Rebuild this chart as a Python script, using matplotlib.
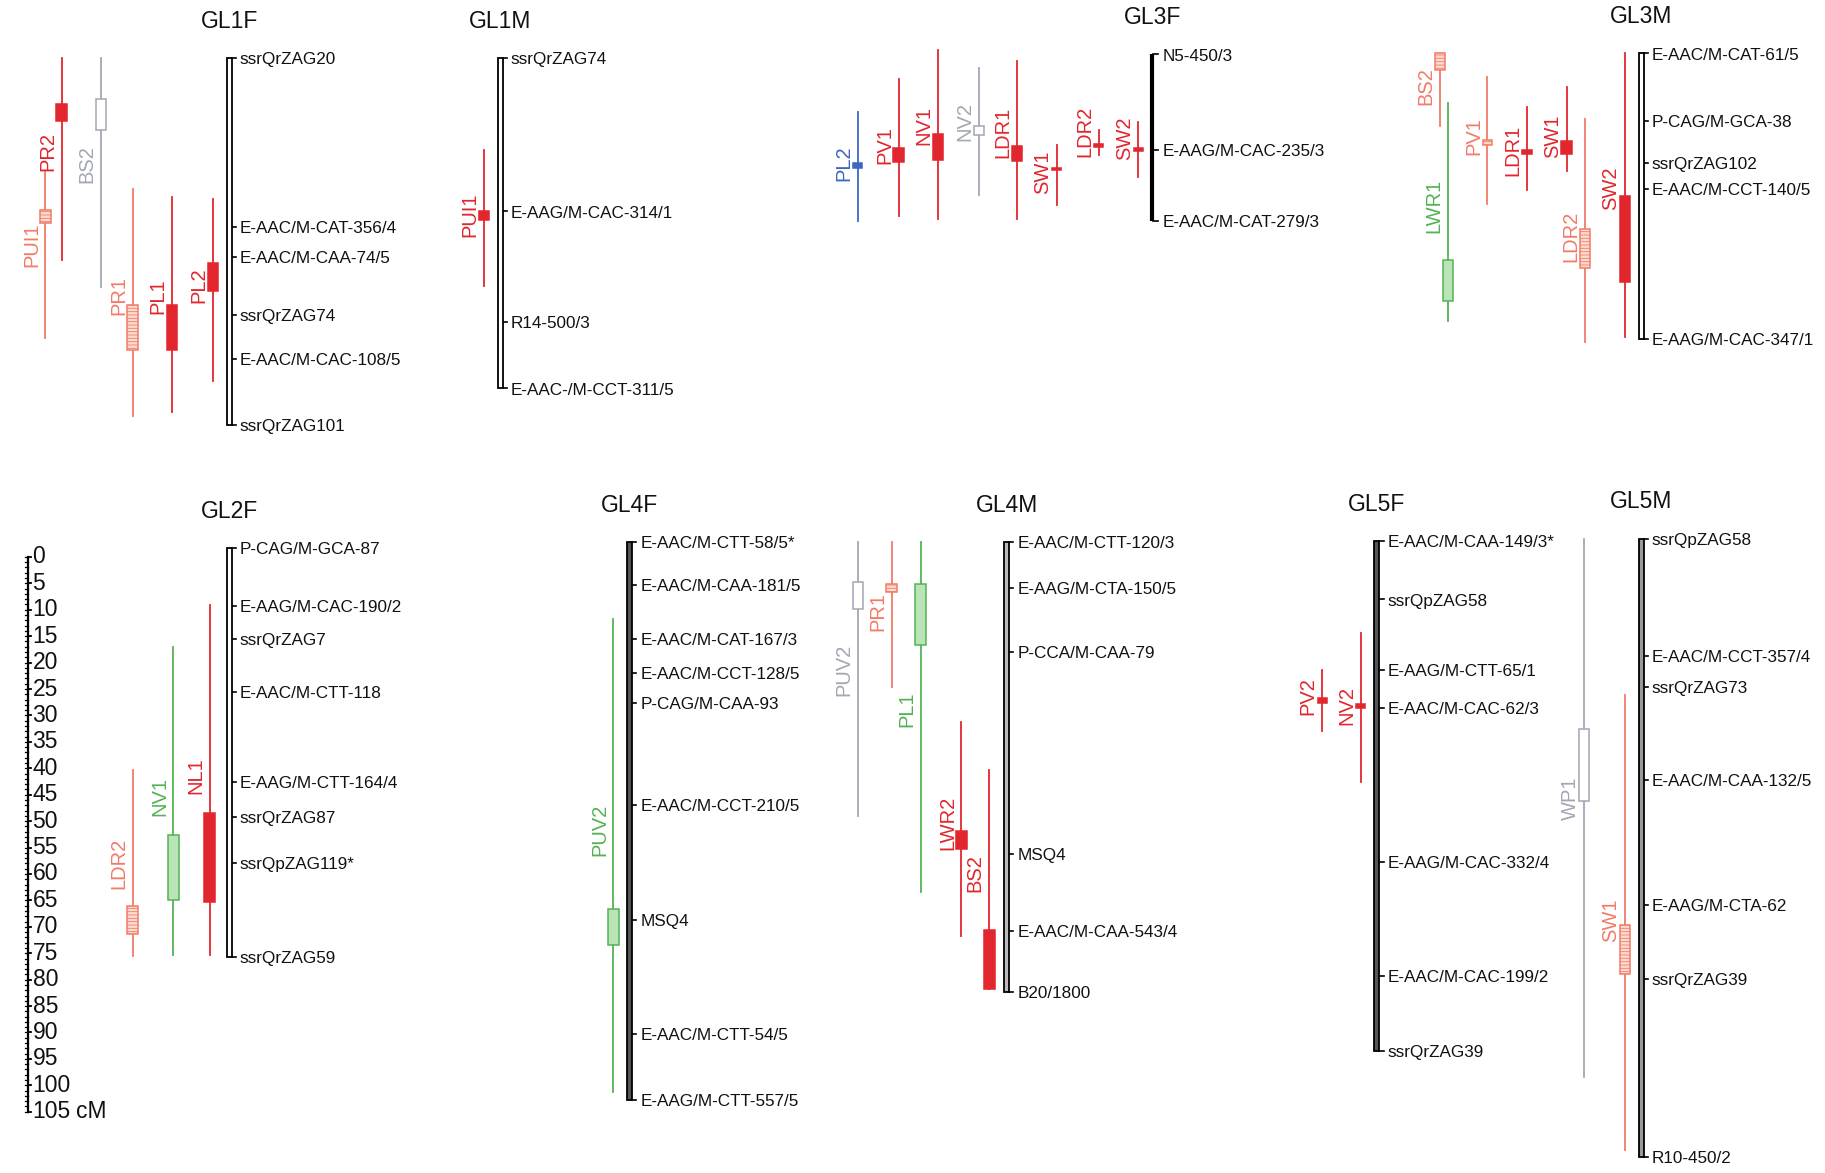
import numpy as np
import matplotlib.pyplot as plt
from matplotlib.patches import Rectangle

plt.rcParams['font.family'] = ['Liberation Sans', 'DejaVu Sans']
plt.rcParams['hatch.linewidth'] = 0.6

# ---- linkage groups: marker names and positions (cM from first marker)
gl1f_markers = ['ssrQrZAG20', 'E-AAC/M-CAT-356/4', 'E-AAC/M-CAA-74/5', 'ssrQrZAG74',
                'E-AAC/M-CAC-108/5', 'ssrQrZAG101']
gl1f_cm = [0, 32.0, 37.6, 48.6, 56.9, 69.4]

gl1m_markers = ['ssrQrZAG74', 'E-AAG/M-CAC-314/1', 'R14-500/3', 'E-AAC-/M-CCT-311/5']
gl1m_cm = [0, 29.0, 50.0, 62.5]

gl3f_markers = ['N5-450/3', 'E-AAG/M-CAC-235/3', 'E-AAC/M-CAT-279/3']
gl3f_cm = [0, 18.1, 31.5]

gl3m_markers = ['E-AAC/M-CAT-61/5', 'P-CAG/M-GCA-38', 'ssrQrZAG102', 'E-AAC/M-CCT-140/5',
                'E-AAG/M-CAC-347/1']
gl3m_cm = [0, 12.7, 20.8, 25.7, 54.0]

gl2f_markers = ['P-CAG/M-GCA-87', 'E-AAG/M-CAC-190/2', 'ssrQrZAG7', 'E-AAC/M-CTT-118',
                'E-AAG/M-CTT-164/4', 'ssrQrZAG87', 'ssrQpZAG119*', 'ssrQrZAG59']
gl2f_cm = [0, 11.0, 17.2, 27.2, 44.3, 50.8, 59.5, 77.3]

gl4f_markers = ['E-AAC/M-CTT-58/5*', 'E-AAC/M-CAA-181/5', 'E-AAC/M-CAT-167/3',
                'E-AAC/M-CCT-128/5', 'P-CAG/M-CAA-93', 'E-AAC/M-CCT-210/5', 'MSQ4',
                'E-AAC/M-CTT-54/5', 'E-AAG/M-CTT-557/5']
gl4f_cm = [0, 8.1, 18.3, 24.7, 30.4, 49.7, 71.4, 93.0, 105.5]

gl4m_markers = ['E-AAC/M-CTT-120/3', 'E-AAG/M-CTA-150/5', 'P-CCA/M-CAA-79', 'MSQ4',
                'E-AAC/M-CAA-543/4', 'B20/1800']
gl4m_cm = [0, 8.6, 20.7, 59.0, 73.6, 85.0]

gl5f_markers = ['E-AAC/M-CAA-149/3*', 'ssrQpZAG58', 'E-AAG/M-CTT-65/1', 'E-AAC/M-CAC-62/3',
                'E-AAG/M-CAC-332/4', 'E-AAC/M-CAC-199/2', 'ssrQrZAG39']
gl5f_cm = [0, 11.0, 24.4, 31.5, 60.6, 82.2, 96.5]

gl5m_markers = ['ssrQpZAG58', 'E-AAC/M-CCT-357/4', 'ssrQrZAG73', 'E-AAC/M-CAA-132/5',
                'E-AAG/M-CTA-62', 'ssrQrZAG39', 'R10-450/2']
gl5m_cm = [0, 22.2, 28.0, 45.6, 69.3, 83.3, 117.0]

# ---- QTLs: name, group, support interval (lo, hi) and peak interval, in cM
qtl_name = ['PUI1', 'PR2', 'BS2', 'PR1', 'PL1', 'PL2',
            'PUI1',
            'PL2', 'PV1', 'NV1', 'NV2', 'LDR1', 'SW1', 'LDR2', 'SW2',
            'BS2', 'LWR1', 'PV1', 'LDR1', 'SW1', 'LDR2', 'SW2',
            'LDR2', 'NV1', 'NL1',
            'PUV2',
            'PUV2', 'PR1', 'PL1', 'LWR2', 'BS2',
            'PV2', 'NV2',
            'WP1', 'SW1']
qtl_group = ['GL1F'] * 6 + ['GL1M'] + ['GL3F'] * 8 + ['GL3M'] * 7 + ['GL2F'] * 3 + \
            ['GL4F'] + ['GL4M'] * 5 + ['GL5F'] * 2 + ['GL5M'] * 2
qtl_lo = [21.6, 0, 0, 24.8, 26.2, 26.7,
          17.3,
          10.8, 4.6, -0.8, 2.6, 1.3, 17.2, 14.3, 12.8,
          0, 9.3, 4.4, 10.2, 6.4, 12.4, 0,
          41.9, 18.7, 10.8,
          14.5,
          0, 0, 0, 33.9, 43.0,
          24.4, 17.3,
          0, 29.6]
qtl_hi = [53.0, 38.2, 43.3, 67.8, 67.0, 61.0,
          43.2,
          31.6, 30.6, 31.1, 26.5, 31.1, 28.5, 19.0, 23.2,
          13.7, 50.6, 28.5, 25.8, 22.3, 54.7, 53.6,
          77.1, 76.9, 76.9,
          104.1,
          51.8, 27.3, 66.1, 74.4, 84.6,
          35.9, 45.6,
          101.8, 115.6]
qtl_peak_lo = [28.7, 8.6, 7.7, 46.8, 46.8, 38.8,
               28.9,
               20.6, 17.7, 15.0, 13.5, 17.4, 21.4, 17.0, 17.7,
               0, 39.1, 16.3, 18.2, 16.6, 33.3, 26.9,
               67.8, 54.2, 50.2,
               69.3,
               7.5, 7.9, 7.9, 54.6, 73.4,
               29.7, 30.7,
               35.9, 73.1]
qtl_peak_hi = [31.1, 11.8, 13.5, 55.2, 55.2, 44.0,
               30.6,
               21.4, 20.3, 19.9, 15.2, 20.1, 21.9, 17.5, 18.2,
               3.1, 46.8, 17.4, 19.0, 19.0, 40.6, 43.3,
               73.1, 66.5, 66.9,
               76.1,
               12.6, 9.3, 19.4, 58.1, 84.6,
               30.5, 31.5,
               49.6, 82.4]

# ---- layout (display units: x 0..1568, y in cM with 4.54 units per cM)
S = 1825 / 1568
K = 4.54
H = 1173 / S
groups = {
    'GL1F': (gl1f_markers, gl1f_cm, 'top', 197, 1.1, 'white'),
    'GL1M': (gl1m_markers, gl1m_cm, 'top', 430, 1.1, 'white'),
    'GL3F': (gl3f_markers, gl3f_cm, 'top', 990, 0.4, 'line'),
    'GL3M': (gl3m_markers, gl3m_cm, 'top', 1410, 0.2, 'white'),
    'GL2F': (gl2f_markers, gl2f_cm, 'bottom', 197, -1.65, 'white'),
    'GL4F': (gl4f_markers, gl4f_cm, 'bottom', 541, -2.75, '#555555'),
    'GL4M': (gl4m_markers, gl4m_cm, 'bottom', 865, -2.75, '#bbbbbb'),
    'GL5F': (gl5f_markers, gl5f_cm, 'bottom', 1183, -2.95, '#555555'),
    'GL5M': (gl5m_markers, gl5m_cm, 'bottom', 1410, -3.4, '#999999'),
}
qtl_x = [39, 53, 87, 114, 148, 183,
         416,
         737, 772, 806, 841, 874, 908, 944, 978,
         1237, 1244, 1278, 1312, 1346, 1362, 1396,
         114, 149, 180,
         527,
         737, 766, 791, 826, 850,
         1136, 1169,
         1361, 1396]
qtl_label_y = [35.3, 17.7, 20.1, 45.0, 45.0, 43.0,
               29.7,
               20.5, 17.2, 13.5, 12.6, 14.8, 22.3, 14.6, 15.9,
               6.2, 28.9, 15.7, 18.3, 15.7, 34.7, 25.6,
               59.7, 47.0, 43.0,
               54.4,
               24.2, 13.0, 31.5, 53.1, 62.6,
               29.3, 31.1,
               49.1, 72.2]
qtl_kind = ['salmon', 'red', 'grey', 'salmon', 'red', 'red',
            'red',
            'blue', 'red', 'red', 'grey', 'red', 'red', 'red', 'red',
            'salmon', 'green', 'salmon', 'red', 'red', 'salmon', 'red',
            'salmon', 'green', 'red',
            'green',
            'grey', 'salmon', 'green', 'red', 'red',
            'red', 'red',
            'grey', 'salmon']

red = '#e1262d'
salmon = '#f27b68'
grey = '#a3a6b4'
green = '#55b255'
blue = '#3d66c4'
styles = {
    'red': dict(line=red, fc=red, ec=red, hatch=None),
    'salmon': dict(line=salmon, fc='#fcdcd0', ec=salmon, hatch='-----'),
    'grey': dict(line=grey, fc='white', ec=grey, hatch=None),
    'green': dict(line=green, fc='#b9e4b5', ec=green, hatch=None),
    'blue': dict(line=blue, fc=blue, ec=blue, hatch=None),
}

fig = plt.figure(figsize=(18.25, 11.73), dpi=100)
top_h = 420
ax_top = fig.add_axes([0, 1 - top_h / H, 1, top_h / H])
ax_bot = fig.add_axes([0, 0, 1, 1 - top_h / H])
ax_top.set_xlim(0, 1568)
ax_top.set_ylim((top_h - 45) / K, -45 / K)
ax_bot.set_xlim(0, 1568)
ax_bot.set_ylim((H - 478.5) / K, (top_h - 478.5) / K)
axes = {'top': ax_top, 'bottom': ax_bot}
for ax in axes.values():
    ax.axis('off')

# chromosomes with markers
for name, (markers, cm, row, x, y0, face) in groups.items():
    ax = axes[row]
    pos = y0 + np.asarray(cm)
    if face == 'line':
        ax.plot([x, x], [pos[0], pos[-1]], color='black', lw=3, solid_capstyle='butt')
        tick0 = x + 1
    else:
        ax.add_patch(Rectangle((x - 2.2, pos[0]), 4.4, pos[-1] - pos[0],
                               fc=face, ec='black', lw=1.3, zorder=3))
        tick0 = x + 2.2
    for m, p in zip(markers, pos):
        ax.plot([tick0, tick0 + 3.5], [p, p], color='black', lw=1.2)
        ax.text(x + 9, p + 0.3, m, ha='left', va='center', fontsize=12.3, color='#111111')
    ax.text(x, pos[0] - 7.0, name, ha='center', va='center', fontsize=16.5, color='#111111')

# QTL bars
for i, name in enumerate(qtl_name):
    row = groups[qtl_group[i]][2]
    y0 = groups[qtl_group[i]][4]
    ax = axes[row]
    st = styles[qtl_kind[i]]
    x = qtl_x[i]
    lo, hi = y0 + qtl_lo[i], y0 + qtl_hi[i]
    plo, phi = y0 + qtl_peak_lo[i], y0 + qtl_peak_hi[i]
    ax.plot([x, x], [lo, hi], color=st['line'], lw=1.3, zorder=2)
    w = 9 if phi - plo > 1.2 else 8
    ax.add_patch(Rectangle((x - w / 2, plo), w, phi - plo, fc=st['fc'], ec=st['ec'],
                           lw=1.1, hatch=st['hatch'], zorder=3))
    ax.text(x - 12, y0 + qtl_label_y[i], name, rotation=90, ha='center', va='center',
            fontsize=14.5, color=st['line'])

# cM scale bar
scale_x = 24
ax_bot.plot([scale_x, scale_x], [0, 105], color='black', lw=1.6)
for c in range(0, 106):
    ax_bot.plot([scale_x - 2.5, scale_x], [c, c], color='black', lw=0.9)
for c in range(0, 106, 5):
    ax_bot.plot([scale_x, scale_x + 3], [c, c], color='black', lw=1.3)
    ax_bot.text(scale_x + 4, c, str(c), ha='left', va='center', fontsize=16.5,
                color='#111111')
ax_bot.text(scale_x + 41, 105, 'cM', ha='left', va='center', fontsize=16.5, color='#111111')

plt.savefig('out.png', dpi=100)
